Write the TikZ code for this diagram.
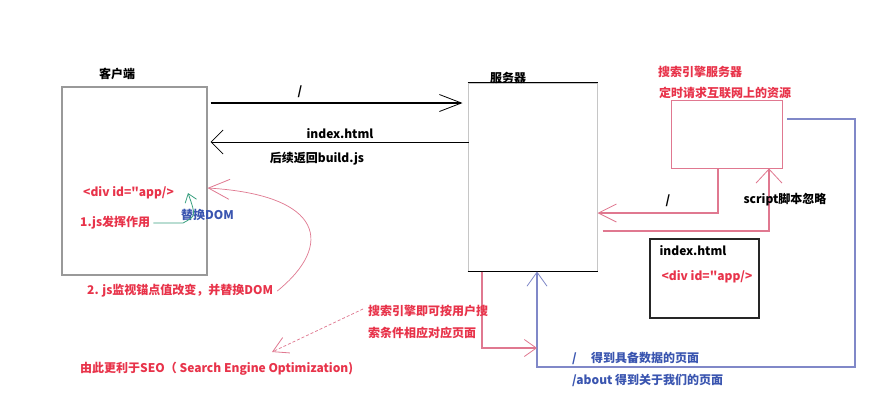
\documentclass[tikz,border=0pt]{standalone}
\usepackage{fontspec}
% plain family without TeX ligature mapping, so " stays a straight quote
\newfontfamily\zh{Noto Sans CJK SC}
\usetikzlibrary{arrows.meta}

\definecolor{txtred}{HTML}{E8334A}
\definecolor{linered}{HTML}{E07890}
\definecolor{lineblue}{HTML}{8088C8}
\definecolor{txtblue}{HTML}{3A55B0}
\definecolor{linegreen}{HTML}{3AA080}

\tikzset{
  lbl/.style={font=\zh\fontsize{12}{14}\selectfont\bfseries, inner sep=0pt},
  rtxt/.style={lbl, text=txtred},
  btxt/.style={lbl, text=txtblue},
  ktxt/.style={lbl, text=black},
  blk/.style={draw=black, line width=1.2pt},
  redln/.style={draw=linered, line width=1.1pt},
  blueln/.style={draw=lineblue, line width=1.2pt},
  barb/.style 2 args={-{Straight Barb[length=#1pt, width=#2pt, line width=0.8pt]}},
}

\begin{document}
\begin{tikzpicture}[x=1pt, y=-1pt]
  \useasboundingbox[fill=white] (0,0) rectangle (883,405);

  % client, server, crawler and page boxes
  \node[draw=gray!80, line width=1.1pt, minimum width=145pt, minimum height=188pt, inner sep=0pt]
    (client) at (134.5,181) {};
  \node[draw=gray!45, line width=1pt, minimum width=129pt, minimum height=188pt, inner sep=0pt]
    (server) at (532.5,177) {};
  \draw[black, line width=1.3pt] (server.north west) -- (server.north east);
  \draw[black, line width=1.3pt] (server.south west) -- (server.south east);
  \node[draw=linered, line width=1pt, minimum width=111pt, minimum height=68pt, inner sep=0pt]
    (se) at (726.5,134) {};
  \node[draw=black!85, line width=1.3pt, minimum width=109pt, minimum height=79pt, inner sep=0pt]
    (page) at (704.5,278.5) {};

  % box titles
  \node[ktxt] (clientlbl) at (117,74) {客户端};
  \node[ktxt] (serverlbl) at (508,77.5) {服务器};
  \node[rtxt, fill=white] (selbl) at (700,72) {搜索引擎服务器};
  \node[rtxt, fill=white, inner ysep=1pt] (selbl2) at (725,93) {定时请求互联网上的资源};
  \node[ktxt] (pagelbl) at (693,251) {index.html};
  \node[rtxt] (pagediv) at (707,277) {<div id="app/>};

  % request / response between client and server
  \draw[blk, barb={22}{17}, shorten <=3pt, shorten >=5pt]
    (client.east |- 0,103) -- (server.west |- 0,103);
  \node[ktxt] (reqlbl) at (300,92) {/};
  \draw[black, line width=1pt, barb={12}{24}, shorten <=-1pt, shorten >=3pt]
    (server.west |- 0,142) -- (client.east |- 0,142);
  \node[ktxt] (resplbl) at (340,134) {index.html};
  \node[ktxt] (resplbl2) at (317,159) {后续返回build.js};

  % inside the client
  \node[rtxt, anchor=west] (appdiv) at (83,193) {<div id="app/>};
  \node[rtxt, anchor=west] (jsrun) at (80,223) {1.js发挥作用};
  \node[btxt, anchor=west] (swap) at (181,215) {替换DOM};
  \coordinate (apptip) at (188,193);
  \draw[linegreen, line width=0.8pt, barb={8}{12}]
    ([xshift=3pt]jsrun.east) -- (183,223) .. controls (196,216) .. (apptip);

  \node[rtxt, anchor=west] (hashlbl) at (87,291) {2. js监视锚点值改变，并替换DOM};
  \draw[linered, line width=0.7pt, barb={21}{20}]
    ([xshift=4pt]hashlbl.east) .. controls (334,245) and (324,195) .. (client.east |- 0,188);

  % crawler requests
  \draw[redln, barb={18}{18}]
    (se.south -| 718,0) -- (718,213) -- (server.east |- 0,213);
  \node[ktxt] (crawlreq) at (668,201) {/};
  \draw[redln, barb={14}{26}]
    ([xshift=5pt]server.east |- 0,231) -- (769,231) -- (se.south -| 769,0);
  \node[ktxt] (scriptlbl) at (785,200) {script脚本忽略};

  % search results routed back to the server
  \coordinate (crawlout) at (787,119);
  \draw[blueln, barb={14}{20}]
    (crawlout) -- (855,119) -- (855,367) -- (537,367) -- (server.south -| 537,0);
  \coordinate (hit) at (537,348);
  \draw[redln, barb={12}{17}]
    (server.south -| 482,0) -- (482,348) -- (hit);

  \node[btxt, anchor=west] (route1) at (572,358) {/\hspace{1.2em}得到具备数据的页面};
  \node[btxt, anchor=west] (route2) at (572,380) {/about 得到关于我们的页面};

  % search engine notes
  \node[rtxt, anchor=west] (match1) at (368,311) {搜索引擎即可按用户搜};
  \node[rtxt, anchor=west] (match2) at (368,333) {索条件相应对应页面};
  \node[rtxt, anchor=west] (seo) at (80,369) {由此更利于SEO（ Search Engine Optimization)};
  \coordinate (seotip) at (272,352);
  \draw[linered, line width=0.7pt, densely dashed, barb={15}{17}]
    ([xshift=-5pt,yshift=2pt]match1.west) -- (seotip);
\end{tikzpicture}
\end{document}
